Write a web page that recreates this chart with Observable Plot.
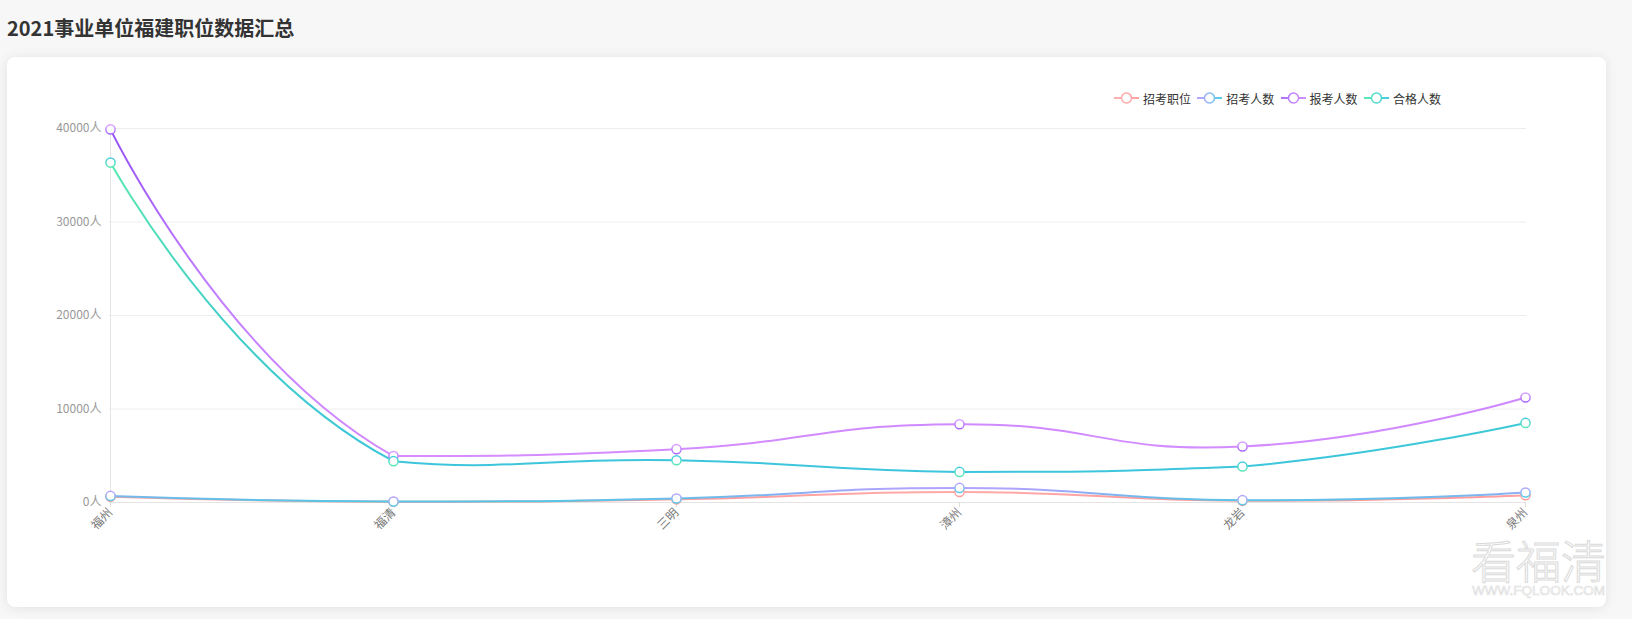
<!DOCTYPE html>
<html>
<head>
<meta charset="utf-8">
<script src="https://cdn.jsdelivr.net/npm/d3@7"></script>
<script src="https://cdn.jsdelivr.net/npm/@observablehq/plot@0.6"></script>
<style>
  html, body { margin: 0; padding: 0; }
  body { width: 1632px; height: 619px; background: #f7f7f7; position: relative; overflow: hidden;
         font-family: "Noto Sans CJK SC", "Noto Sans", sans-serif; }
  #title { position: absolute; left: 7px; top: 13px; font-size: 20px; font-weight: bold; color: #333; line-height: 30px; }
  #card { position: absolute; left: 7px; top: 57px; width: 1599px; height: 550px; background: #fff;
          border-radius: 8px; box-shadow: 0 1px 12px rgba(0,0,0,0.09); }
  #chart { position: absolute; left: 0; top: 57px; }
  #legend { position: absolute; left: 1114px; top: 89px; display: flex; font-size: 12px; color: #333; }
  .item { display: flex; align-items: center; width: 83.3px; height: 18px; }
  .item svg { margin-right: 4px; }
  #wm { position: absolute; left: 1460px; top: 520px; }
</style>
</head>
<body>
<div id="title">2021事业单位福建职位数据汇总</div>
<div id="card"></div>
<div id="legend"></div>
<svg id="wm" width="172" height="99" viewBox="0 0 172 99">
  <text fill="#fff" stroke="#dadada" stroke-width="1"><tspan x="11" y="59" font-size="45" font-family="Noto Sans CJK SC" font-weight="300">看福清</tspan><tspan x="12" y="75" font-size="13" font-family="Liberation Sans, sans-serif" stroke-width="0.6" textLength="133" lengthAdjust="spacingAndGlyphs">WWW.FQLOOK.COM</tspan></text>
</svg>
<script>
const cities = ["福州", "福清", "三明", "漳州", "龙岩", "泉州"];
const seriesNames = ["招考职位", "招考人数", "报考人数", "合格人数"];
const zkzw = [620, 80, 340, 1130, 190, 780];      // 招考职位
const zkrs = [700, 100, 430, 1560, 250, 1070];    // 招考人数
const bkrs = [39900, 4960, 5700, 8370, 5990, 11230]; // 报考人数
const hgrs = [36360, 4420, 4520, 3270, 3850, 8510];  // 合格人数
const yTicks = [0, 10000, 20000, 30000, 40000];

const seriesValues = [zkzw, zkrs, bkrs, hgrs];
const gradIds = ["zkzw", "zkrs", "bkrs", "hgrs"];

// Smoothed bezier curve constrained to the series' bounding box (smooth = 0.5)
function SmoothCurve(context) { this._context = context; }
SmoothCurve.prototype = {
  areaStart() { this._line = 0; },
  areaEnd() { this._line = NaN; },
  lineStart() { this._pts = []; },
  point(x, y) { this._pts.push([+x, +y]); },
  lineEnd() {
    const pts = this._pts, ctx = this._context, smooth = 0.5;
    if (!pts.length) return;
    const minX = d3.min(pts, p => p[0]), maxX = d3.max(pts, p => p[0]);
    const minY = d3.min(pts, p => p[1]), maxY = d3.max(pts, p => p[1]);
    const clamp = c => [Math.max(minX, Math.min(maxX, c[0])), Math.max(minY, Math.min(maxY, c[1]))];
    let cp0 = pts[0].slice();
    ctx.moveTo(pts[0][0], pts[0][1]);
    for (let i = 1; i < pts.length; i++) {
      const p = pts[i], prev = pts[i - 1], next = pts[i + 1];
      let cp1, ratio = 0.5, v = [0, 0];
      if (!next) {
        cp1 = p.slice();
      } else {
        v = [next[0] - prev[0], next[1] - prev[1]];
        const lp = Math.hypot(p[0] - prev[0], p[1] - prev[1]);
        const ln = Math.hypot(p[0] - next[0], p[1] - next[1]);
        ratio = ln / (ln + lp);
        cp1 = [p[0] - v[0] * smooth * (1 - ratio), p[1] - v[1] * smooth * (1 - ratio)];
      }
      const a = clamp(cp0), b = clamp(cp1);
      ctx.bezierCurveTo(a[0], a[1], b[0], b[1], p[0], p[1]);
      cp0 = [p[0] + v[0] * smooth * ratio, p[1] + v[1] * smooth * ratio];
    }
  }
};
const curveSmooth = context => new SmoothCurve(context);

const marks = [
  Plot.ruleY(yTicks.slice(1), {stroke: "#eeeeee"}),
  Plot.ruleX([cities[0]], {stroke: "#e4e4e4"}),
  Plot.ruleY([0], {stroke: "#e4e4e4"}),
  Plot.axisY({ticks: yTicks, tickFormat: d => d + "人", tickSize: 0, tickPadding: 8, fill: "#999", fontSize: 12}),
  Plot.axisX({tickRotate: -45, tickSize: 5, tickPadding: 3, stroke: "#dddddd", fill: "#777", fontSize: 12})
];
seriesValues.forEach((vals, k) => {
  const data = cities.map((c, i) => ({city: c, v: vals[i]}));
  marks.push(Plot.line(data, {x: "city", y: "v", curve: curveSmooth, stroke: `url(#l-${gradIds[k]})`, strokeWidth: 2}));
});
seriesValues.forEach((vals, k) => {
  const data = cities.map((c, i) => ({city: c, v: vals[i]}));
  marks.push(Plot.dot(data, {x: "city", y: "v", r: 4.6, fill: "#fff", stroke: `url(#d-${gradIds[k]})`, strokeWidth: 1.5}));
});

const chart = Plot.plot({
  width: 1632,
  height: 550,
  marginLeft: 109,
  marginRight: 106,
  marginTop: 71,
  marginBottom: 105,
  x: {type: "point", domain: cities, padding: 0, label: null},
  y: {domain: [0, 40000], label: null},
  style: {fontFamily: '"Noto Sans CJK SC", "Noto Sans", sans-serif', fontSize: "12px", background: "transparent", overflow: "visible"},
  marks
});
chart.id = "chart";

const defs = document.createElementNS("http://www.w3.org/2000/svg", "defs");
const grad = (id, stops, horiz) =>
  (horiz
    ? `<linearGradient id="${id}" gradientUnits="userSpaceOnUse" x1="2" y1="0" x2="23" y2="0">`
    : `<linearGradient id="${id}" x1="0" y1="0" x2="0" y2="1">`) +
  stops.map(([o, c]) => `<stop offset="${o}" stop-color="${c}"/>`).join("") + `</linearGradient>`;
defs.innerHTML =
  grad("l-zkzw", [[0, "#ffaaaa"], [1, "#ff9494"]]) +
  grad("l-zkrs", [[0, "#b4a2ff"], [0.5, "#80b4f0"], [1, "#52c8e6"]]) +
  grad("l-bkrs", [[0, "#9450f4"], [0.45, "#c07cff"], [1, "#d48cff"]]) +
  grad("l-hgrs", [[0, "#58e8b0"], [0.5, "#42d0c8"], [1, "#3cc5dc"]]) +
  grad("d-zkzw", [[0, "#ffb4b4"], [1, "#ff9a9a"]]) +
  grad("d-zkrs", [[0, "#b8a4ff"], [1, "#58cce8"]]) +
  grad("d-bkrs", [[0, "#d8a0ff"], [1, "#a868ff"]]) +
  grad("d-hgrs", [[0, "#48cde0"], [1, "#5ce8b8"]]) +
  grad("g-zkzw", [[0, "#ffb0b0"], [1, "#ffa0a0"]], true) +
  grad("g-zkrs", [[0, "#b8a4ff"], [1, "#58cce8"]], true) +
  grad("g-bkrs", [[0, "#b070ff"], [1, "#d090ff"]], true) +
  grad("g-hgrs", [[0, "#5ce8b8"], [1, "#48cde0"]], true);
chart.prepend(defs);
document.body.insertBefore(chart, document.getElementById("legend"));

const legend = document.getElementById("legend");
seriesNames.forEach((name, k) => {
  const item = document.createElement("div");
  item.className = "item";
  item.innerHTML =
    `<svg width="25" height="14" viewBox="0 0 25 14">` +
    `<line x1="0" y1="7" x2="25" y2="7" stroke="url(#g-${gradIds[k]})" stroke-width="2"/>` +
    `<circle cx="12.5" cy="7" r="5" fill="#fff" stroke="url(#g-${gradIds[k]})" stroke-width="1.5"/></svg>` +
    `<span>${name}</span>`;
  legend.appendChild(item);
});
</script>
</body>
</html>
